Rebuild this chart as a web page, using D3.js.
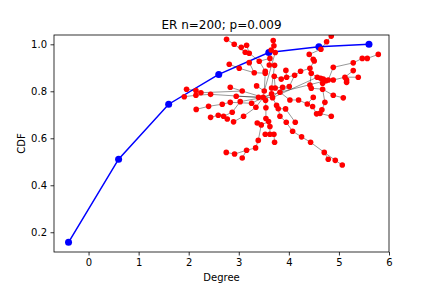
<!DOCTYPE html>
<html><head><meta charset="utf-8">
<script src="https://cdn.jsdelivr.net/npm/d3@7"></script>
<style>
html,body{margin:0;padding:0;background:#fff;}
text{font-family:"DejaVu Sans",sans-serif;fill:#000;}
</style></head>
<body>
<svg id="chart" width="432" height="288"></svg>
<script>
// CDF line data
const degree = [-0.4, 0.6, 1.6, 2.6, 3.6, 4.6, 5.6];
const cdf = [0.157, 0.511, 0.745, 0.872, 0.965, 0.99, 1.0];
const xTicks = [0, 1, 2, 3, 4, 5, 6];
const yTicks = [0.2, 0.4, 0.6, 0.8, 1.0];
const titleText = "ER n=200; p=0.009";
const xLabel = "Degree";
const yLabel = "CDF";

// Network nodes (data coordinates)
const nodes = [
[2.756,1.021],[2.909,1.000],[3.049,0.987],[3.156,0.996],[3.129,0.966],[3.209,0.962],[3.209,0.922],[3.409,0.928],[2.810,0.915],[3.009,0.898],
[3.309,0.879],[3.529,0.885],[3.529,0.877],[3.688,1.016],[3.702,0.994],[3.648,0.976],[3.728,0.965],[3.622,0.940],[3.609,0.912],[3.715,0.911],
[3.708,0.864],[3.941,0.889],[3.848,0.852],[3.955,0.860],[4.115,0.868],[4.234,0.885],[4.421,0.898],[4.447,0.877],[4.487,0.936],[4.507,0.929],
[4.407,0.957],[4.640,0.979],[4.754,1.011],[4.847,1.035],[4.567,0.860],[4.634,0.855],[4.687,0.852],[4.740,0.845],[4.787,0.848],[4.887,0.902],
[5.286,0.921],[5.286,0.888],[5.466,0.940],[5.566,0.940],[5.786,0.957],[5.120,0.860],[5.153,0.848],[5.153,0.838],[5.386,0.860],[4.887,0.848],
[4.674,0.834],[4.421,0.827],[4.447,0.813],[4.674,0.809],[4.487,0.774],[4.887,0.783],[5.087,0.772],[4.368,0.746],[4.474,0.735],[4.554,0.704],
[4.621,0.706],[4.660,0.721],[4.720,0.753],[4.847,0.694],[3.356,0.823],[3.509,0.801],[3.655,0.814],[3.728,0.814],[3.875,0.817],[3.822,0.796],
[4.008,0.820],[3.655,0.789],[3.675,0.773],[3.395,0.774],[3.489,0.774],[3.535,0.762],[4.021,0.763],[4.194,0.763],[3.755,0.740],[3.788,0.726],
[3.935,0.725],[3.822,0.694],[3.948,0.668],[3.342,0.732],[3.256,0.749],[3.542,0.730],[3.369,0.665],[3.449,0.657],[3.542,0.684],[3.595,0.671],
[3.622,0.650],[3.529,0.617],[3.622,0.617],[3.702,0.617],[3.715,0.583],[3.389,0.591],[3.336,0.559],[3.156,0.549],[2.916,0.533],[2.750,0.540],
[3.069,0.516],[4.075,0.630],[4.128,0.668],[4.254,0.606],[4.434,0.583],[4.707,0.540],[4.787,0.511],[4.927,0.506],[5.067,0.486],[1.911,0.777],
[1.957,0.809],[2.144,0.803],[2.144,0.783],[2.244,0.794],[2.437,0.787],[2.830,0.817],[3.069,0.801],[2.949,0.779],[3.029,0.756],[2.830,0.753],
[2.670,0.745],[2.397,0.736],[2.150,0.723],[2.437,0.689],[2.590,0.698],[2.696,0.694],[2.770,0.682],[2.869,0.711],[2.896,0.670],[3.096,0.694]
];
// Network edges (node index pairs)
const edges = [
[0,1],[1,4],[4,5],[2,3],[3,5],[5,7],[7,11],[11,12],[12,65],[6,10],[8,9],[9,10],[10,12],
[13,14],[14,15],[15,16],[16,65],[17,18],[18,19],[19,66],[20,22],[20,67],
[22,23],[23,21],[23,24],[24,25],[25,26],[26,27],[27,34],[34,35],[35,36],[36,37],[37,38],[38,49],[49,45],[45,46],[46,47],[45,48],
[39,40],[40,42],[42,43],[43,44],[41,45],[39,38],[28,29],[29,26],[30,28],[31,30],[32,31],[33,32],
[50,34],[51,52],[52,53],[53,55],[55,56],[51,27],[54,57],[57,58],[58,59],[59,60],[60,61],[61,62],[62,53],[63,60],
[66,67],[67,68],[68,70],[70,24],[69,70],[69,74],[76,77],[77,57],[76,69],[69,38],[72,34],
[109,112],[112,114],[114,73],[73,74],[110,111],[111,113],[113,116],[116,74],[115,116],[117,74],[118,74],
[122,121],[121,120],[120,119],[119,84],[84,74],[123,124],[124,125],[125,126],[125,127],[127,118],[128,129],[129,83],[83,74],
[74,75],[75,85],[85,88],[88,89],[89,90],[90,92],[91,92],[92,93],[93,94],[86,87],[87,89],[95,87],[95,96],[96,97],[97,98],[98,99],[100,97],
[74,72],[72,78],[78,79],[79,81],[81,82],[82,101],[101,103],[103,104],[104,105],[105,106],[105,107],[107,108],[80,102],[79,80],
[64,65],[65,74],[71,74],[66,71],[68,72],[7,17]
];

const W = 432, H = 288;
const svg = d3.select("#chart");
const x = d3.scaleLinear().domain([-0.69, 6.0]).range([54, 389]);
const y = d3.scaleLinear().domain([0.116, 1.0396]).range([252, 35]);

svg.append("defs").append("clipPath").attr("id", "clip")
  .append("rect").attr("x", 54).attr("y", 35).attr("width", 335).attr("height", 217);

const plot = svg.append("g").attr("clip-path", "url(#clip)");

// CDF line
plot.append("path").datum(degree.map((d, i) => [d, cdf[i]]))
  .attr("fill", "none").attr("stroke", "#0000ff").attr("stroke-width", 1.5)
  .attr("d", d3.line().x(d => x(d[0])).y(d => y(d[1])));
plot.selectAll("circle.cdf").data(degree.map((d, i) => [d, cdf[i]])).enter()
  .append("circle").attr("class", "cdf")
  .attr("cx", d => x(d[0])).attr("cy", d => y(d[1])).attr("r", 3.5)
  .attr("fill", "#0000ff");

// Network
plot.selectAll("line.edge").data(edges).enter().append("line")
  .attr("class", "edge")
  .attr("x1", d => x(nodes[d[0]][0])).attr("y1", d => y(nodes[d[0]][1]))
  .attr("x2", d => x(nodes[d[1]][0])).attr("y2", d => y(nodes[d[1]][1]))
  .attr("stroke", "#000").attr("stroke-opacity", 0.45).attr("stroke-width", 0.9);
plot.selectAll("circle.node").data(nodes).enter().append("circle")
  .attr("class", "node")
  .attr("cx", d => x(d[0])).attr("cy", d => y(d[1])).attr("r", 2.8)
  .attr("fill", "#ff0000");

// Axes
const xAxis = d3.axisBottom(x).tickValues(xTicks).tickFormat(d3.format("d")).tickSize(3.5).tickPadding(3.5);
const yAxis = d3.axisLeft(y).tickValues(yTicks).tickFormat(d3.format(".1f")).tickSize(3.5).tickPadding(3.5);
const gx = svg.append("g").attr("transform", "translate(0,252)").call(xAxis);
const gy = svg.append("g").attr("transform", "translate(54,0)").call(yAxis);
[gx, gy].forEach(g => {
  g.select(".domain").remove();
  g.selectAll(".tick line").attr("stroke", "#000").attr("stroke-width", 0.8);
  g.selectAll(".tick text").attr("font-size", 10).attr("font-family", "DejaVu Sans").attr("fill", "#000");
});

// Frame
svg.append("rect").attr("x", 54).attr("y", 35).attr("width", 335).attr("height", 217)
  .attr("fill", "none").attr("stroke", "#000").attr("stroke-width", 0.8);

// Labels
svg.append("text").attr("x", 221.5).attr("y", 29).attr("text-anchor", "middle")
  .attr("font-size", 12).text(titleText);
svg.append("text").attr("x", 221.5).attr("y", 281).attr("text-anchor", "middle")
  .attr("font-size", 10).text(xLabel);
svg.append("text").attr("transform", "translate(25,143.5) rotate(-90)").attr("text-anchor", "middle")
  .attr("font-size", 10).text(yLabel);
</script>
</body></html>
